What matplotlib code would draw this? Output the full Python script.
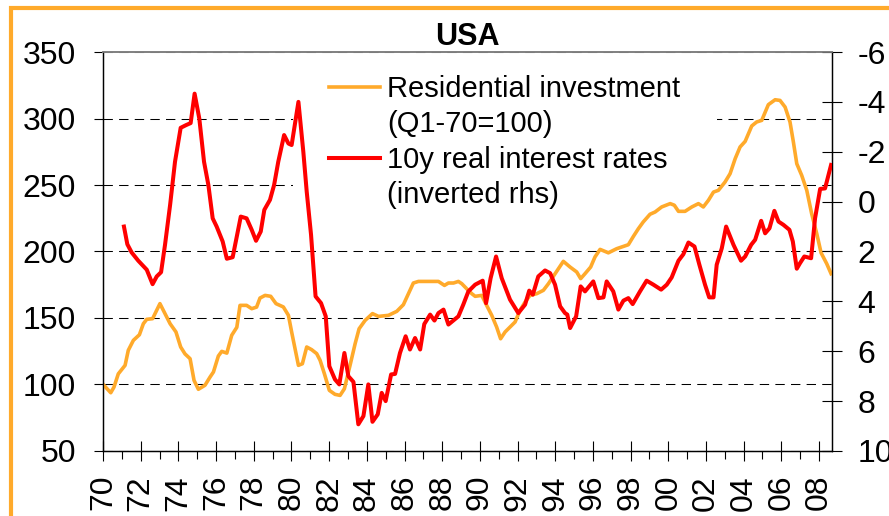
import matplotlib
matplotlib.use("Agg")
from matplotlib import pyplot as plt
from matplotlib.patches import Rectangle
from matplotlib.lines import Line2D
from matplotlib.ticker import MultipleLocator

plt.rcParams['font.family'] = ['Liberation Sans', 'DejaVu Sans']

# residential investment, Q1-70 = 100 (left axis)
inv_years = [1970.0, 1970.41, 1970.58, 1970.81, 1971.17, 1971.34, 1971.61, 1971.93,
             1972.14, 1972.32, 1972.63, 1973.02, 1973.29, 1973.56, 1973.87, 1974.12,
             1974.35, 1974.62, 1974.83, 1975.06, 1975.41, 1975.68, 1975.86, 1976.12,
             1976.30, 1976.57, 1976.83, 1977.10, 1977.27, 1977.62, 1977.89, 1978.15,
             1978.33, 1978.60, 1978.90, 1979.18, 1979.57, 1979.84, 1980.01, 1980.19,
             1980.37, 1980.58, 1980.81, 1981.07, 1981.34, 1981.52, 1981.75, 1982.01,
             1982.31, 1982.58, 1982.81, 1983.11, 1983.38, 1983.59, 1983.91, 1984.30,
             1984.62, 1985.15, 1985.59, 1985.94, 1986.21, 1986.47, 1986.74, 1987.80,
             1988.12, 1988.33, 1988.60, 1988.86, 1989.04, 1989.30, 1989.57, 1989.75,
             1990.10, 1990.36, 1990.63, 1990.89, 1991.10, 1991.34, 1991.60, 1991.87,
             1992.13, 1992.40, 1992.66, 1993.02, 1993.37, 1993.64, 1993.99, 1994.43,
             1994.79, 1995.14, 1995.35, 1995.58, 1995.88, 1996.11, 1996.38, 1996.82,
             1997.26, 1997.88, 1998.15, 1998.41, 1998.67, 1999.03, 1999.30, 1999.65,
             2000.10, 2000.32, 2000.54, 2000.89, 2001.25, 2001.60, 2001.86, 2002.13,
             2002.40, 2002.66, 2003.01, 2003.28, 2003.55, 2003.81, 2004.08, 2004.43,
             2004.69, 2004.96, 2005.31, 2005.67, 2005.93, 2006.20, 2006.46, 2006.64,
             2006.82, 2007.08, 2007.35, 2007.61, 2007.88, 2008.11, 2008.41, 2008.64]
inv_values = [100.1, 93.8, 98.0, 108.0, 114.4, 125.7, 133.2, 137.4,
              145.7, 149.0, 149.5, 160.8, 153.3, 145.7, 139.5, 128.2,
              123.0, 119.4, 103.1, 96.4, 99.4, 105.6, 109.4, 121.4,
              124.9, 123.6, 137.0, 143.0, 159.5, 159.5, 157.0, 158.2,
              165.0, 167.0, 166.3, 160.8, 158.3, 152.0, 139.5, 127.0,
              114.4, 115.6, 128.2, 126.2, 123.2, 118.2, 108.0, 95.6,
              92.6, 91.8, 96.8, 114.4, 130.7, 141.9, 148.2, 153.3,
              151.2, 152.0, 155.0, 160.0, 168.3, 176.3, 177.5, 177.5,
              174.5, 176.3, 176.3, 177.5, 175.8, 172.0, 168.3, 166.3,
              167.0, 159.5, 152.0, 143.2, 134.4, 139.5, 143.2, 147.0,
              155.8, 162.0, 167.0, 168.3, 170.8, 175.8, 183.3, 192.6,
              188.3, 184.6, 179.6, 183.3, 188.3, 195.9, 201.6, 199.0,
              202.1, 205.1, 211.4, 217.1, 222.2, 228.0, 229.7, 233.5,
              236.0, 234.8, 230.2, 230.2, 233.5, 236.0, 233.5, 238.5,
              244.7, 246.0, 252.2, 258.5, 269.8, 278.6, 282.8, 294.4,
              297.4, 298.6, 310.4, 314.1, 313.6, 308.6, 297.4, 282.3,
              266.0, 257.3, 246.0, 228.4, 213.4, 199.0, 190.8, 183.3]

# 10y real interest rate, % (right axis, inverted)
rate_years = [1971.11, 1971.29, 1971.52, 1971.87, 1972.32, 1972.63, 1972.85, 1973.08,
              1973.29, 1973.56, 1973.82, 1974.12, 1974.41, 1974.65, 1974.86, 1975.11,
              1975.36, 1975.59, 1975.82, 1976.03, 1976.35, 1976.57, 1976.88, 1977.10,
              1977.31, 1977.62, 1977.89, 1978.12, 1978.37, 1978.56, 1978.86, 1979.08,
              1979.30, 1979.61, 1979.84, 1980.01, 1980.37, 1980.63, 1980.81, 1981.04,
              1981.28, 1981.57, 1981.82, 1982.01, 1982.31, 1982.54, 1982.81, 1983.02,
              1983.29, 1983.55, 1983.82, 1984.08, 1984.30, 1984.58, 1984.79, 1985.00,
              1985.29, 1985.50, 1985.76, 1986.06, 1986.29, 1986.56, 1986.83, 1987.05,
              1987.36, 1987.59, 1987.80, 1988.07, 1988.33, 1988.86, 1989.12, 1989.39,
              1989.75, 1990.15, 1990.33, 1990.57, 1990.86, 1991.16, 1991.60, 1992.04,
              1992.40, 1992.62, 1992.81, 1993.10, 1993.46, 1993.73, 1993.99, 1994.26,
              1994.52, 1994.64, 1994.79, 1995.11, 1995.35, 1995.58, 1996.02, 1996.29,
              1996.56, 1996.73, 1997.08, 1997.35, 1997.62, 1997.88, 1998.11, 1998.50,
              1998.85, 1999.21, 1999.62, 1999.92, 2000.18, 2000.54, 2000.80, 2001.07,
              2001.39, 2001.65, 2001.95, 2002.17, 2002.40, 2002.57, 2002.84, 2003.07,
              2003.46, 2003.86, 2004.08, 2004.40, 2004.61, 2004.93, 2005.14, 2005.37,
              2005.63, 2005.85, 2006.11, 2006.43, 2006.61, 2006.82, 2006.99, 2007.22,
              2007.58, 2007.79, 2008.06, 2008.32, 2008.64]
rate_values = [1.0, 1.71, 2.04, 2.37, 2.73, 3.31, 3.0, 2.83,
               1.73, 0.13, -1.6, -2.96, -3.07, -3.15, -4.33, -3.33,
               -1.6, -0.67, 0.67, 1.0, 1.6, 2.29, 2.23, 1.4,
               0.6, 0.67, 1.13, 1.57, 1.2, 0.33, -0.07, -0.67,
               -1.6, -2.67, -2.33, -2.27, -4.0, -2.0, -0.4, 1.33,
               3.8, 4.07, 4.6, 6.6, 7.13, 7.33, 6.07, 7.0,
               7.23, 8.93, 8.6, 7.33, 8.83, 8.53, 7.67, 8.0,
               6.93, 6.91, 6.07, 5.4, 5.93, 5.47, 5.93, 4.91,
               4.53, 4.77, 4.47, 4.33, 4.93, 4.6, 4.13, 3.6,
               3.33, 3.17, 4.07, 3.07, 2.2, 3.07, 3.93, 4.47,
               4.13, 3.57, 3.73, 3.0, 2.76, 2.87, 3.33, 4.2,
               4.47, 4.53, 5.07, 4.6, 3.4, 3.6, 3.2, 3.87,
               3.84, 3.2, 3.6, 4.33, 3.97, 3.87, 4.11, 3.6,
               3.17, 3.33, 3.53, 3.33, 3.04, 2.37, 2.11, 1.64,
               1.8, 2.53, 3.33, 3.84, 3.84, 2.53, 1.87, 1.0,
               1.73, 2.37, 2.2, 1.73, 1.53, 0.77, 1.27, 1.07,
               0.37, 0.8, 0.93, 1.13, 1.6, 2.69, 2.47, 2.2,
               2.27, 0.67, -0.51, -0.53, -1.47]

year_ticks = list(range(1970, 2009, 2))
year_labels = ['70', '72', '74', '76', '78', '80', '82', '84', '86', '88',
               '90', '92', '94', '96', '98', '00', '02', '04', '06', '08']
left_ticks = [50, 100, 150, 200, 250, 300, 350]
right_ticks = [-6, -4, -2, 0, 2, 4, 6, 8, 10]
right_labels = ['-6', '-4', '-2', '0', '2', '4', '6', '8', '10']

orange = '#FFAA2B'
red = '#FF0000'

fig = plt.figure(figsize=(8.89, 5.16), dpi=100)
ax = fig.add_axes([0.1159, 0.126, 0.82, 0.7732])
ax2 = ax.twinx()

ax.plot(inv_years, inv_values, color=orange, lw=2.6, zorder=3)
ax2.plot(rate_years, rate_values, color=red, lw=2.9, zorder=3)

ax.set_xlim(1970, 2008.69)
ax.set_ylim(50, 350)
ax2.set_ylim(10, -6)

ax.set_xticks(year_ticks)
ax.set_xticklabels(year_labels, rotation=90)
ax.xaxis.set_minor_locator(MultipleLocator(1))
ax.set_yticks(left_ticks)
ax2.set_yticks(right_ticks)
ax2.set_yticklabels(right_labels)

ax.yaxis.grid(True, color='black', lw=0.75, linestyle=(0, (9, 6)))
ax.set_axisbelow(True)

ax.tick_params(axis='y', direction='out', length=6.5, width=0.8, labelsize=23, pad=13)
ax.tick_params(axis='x', which='major', direction='inout', length=14.5, width=0.8,
               labelsize=23, pad=10)
ax.tick_params(axis='x', which='minor', direction='out', length=6, width=0.8)
ax2.tick_params(axis='y', direction='inout', length=14.5, width=0.8, labelsize=23, pad=11)

for a in (ax, ax2):
    a.spines['top'].set_color('#808080')
    a.spines['top'].set_linewidth(1.2)
    for s in ('left', 'right', 'bottom'):
        a.spines[s].set_linewidth(0.9)

ax.set_title('USA', fontsize=22, fontweight='bold', pad=5)

# white box behind the legend hides the gridlines there
ax.add_patch(Rectangle((0.261, 0.56), 0.581, 0.42, transform=ax.transAxes,
                       facecolor='white', edgecolor='none', zorder=1))

handles = [Line2D([], [], color=orange, lw=2.6), Line2D([], [], color='none'),
           Line2D([], [], color=red, lw=2.9), Line2D([], [], color='none')]
labels = ['Residential investment', '(Q1-70=100)',
          '10y real interest rates', '(inverted rhs)']
ax2.legend(handles, labels, loc='upper left', bbox_to_anchor=(0.31, 0.942),
           frameon=False, fontsize=21, handlelength=1.75, handletextpad=0.25,
           labelspacing=0.25, borderpad=0, borderaxespad=0)

fig.patches.append(Rectangle((0.0124, -0.1), 1.2, 1.0845, transform=fig.transFigure,
                             fill=False, edgecolor=orange, lw=3, zorder=10))

fig.savefig('out.png', dpi=100)
